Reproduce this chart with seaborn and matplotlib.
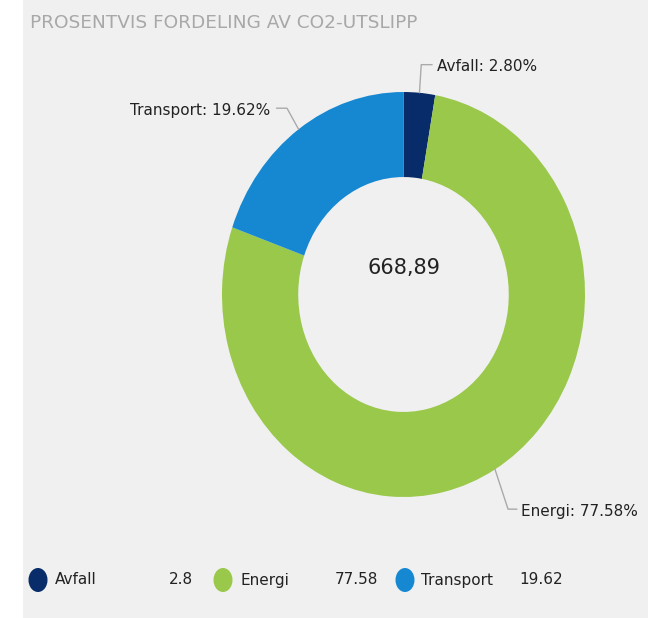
import matplotlib.pyplot as plt
import seaborn as sns
import numpy as np
from matplotlib.patches import Rectangle, Ellipse

# data
categories = ["Avfall", "Energi", "Transport"]
shares = [2.80, 77.58, 19.62]
legend_values = ["2.8", "77.58", "19.62"]
total_label = "668,89"
title = "PROSENTVIS FORDELING AV CO2-UTSLIPP"

colors = ["#082C6A", "#99C84A", "#1688D2"]

sns.set_theme(style="white")
plt.rcParams['font.family'] = ['DejaVu Sans']

W, H = 659, 618
fig = plt.figure(figsize=(W / 100, H / 100), dpi=100, facecolor="white")

def fx(px):
    return px / W

def fy(py):
    return 1 - py / H

# grey card background
fig.patches.append(Rectangle((fx(23), 0), fx(648) - fx(23), 1, transform=fig.transFigure,
                             facecolor="#F0F0F0", edgecolor="none", zorder=-5))

fig.text(fx(30), fy(23), title, fontsize=13.3, color="#A8A8A8", va="center", ha="left")

# donut axes (stretched, like the original)
left, right, top, bottom = 222, 585, 92, 497
ax = fig.add_axes([fx(left), fy(bottom), fx(right) - fx(left), (bottom - top) / H])
ax.set_zorder(2)
ax.patch.set_visible(False)
wedges, _ = ax.pie(shares, colors=colors, startangle=90, counterclock=False,
                   radius=1, wedgeprops=dict(width=0.42, edgecolor="none"))
ax.set_aspect("auto")
ax.set_xlim(-1, 1)
ax.set_ylim(-1, 1)
ax.axis("off")

ax.text(0, 0.13, total_label, ha="center", va="center", fontsize=15, color="#222222")

# leader lines + labels: (elbow, line end, text pos, ha)
label_layout = {
    "Avfall": ((0.10, 1.135), (0.16, 1.135), (0.185, 1.125), "left"),
    "Energi": ((0.576, -1.06), (0.625, -1.06), (0.65, -1.07), "left"),
    "Transport": ((-0.642, 0.92), (-0.70, 0.92), (-0.735, 0.91), "right"),
}
for w, cat, s in zip(wedges, categories, shares):
    ang = np.deg2rad((w.theta1 + w.theta2) / 2)
    ax_, ay_ = np.cos(ang), np.sin(ang)
    (ex, ey), (lx, ly), (tx, ty), ha = label_layout[cat]
    if cat == "Avfall":
        ex = ax_ + 0.01
        lx = ex + 0.06
    ax.plot([ax_, ex, lx], [ay_, ey, ly], color="#AAAAAA", lw=1, clip_on=False)
    ax.text(tx, ty, f"{cat}: {s:.2f}%", ha=ha, va="center", fontsize=11,
            color="#222222", clip_on=False)

# legend row
leg_y = 580
circle_x = [38, 223, 405]
text_x = [55, 240, 421]
value_right = [193, 378, 563]
for c, cx, tx, vx, cat, val in zip(colors, circle_x, text_x, value_right, categories, legend_values):
    fig.patches.append(Ellipse((fx(cx), fy(leg_y)), 19 / W, 24 / H, transform=fig.transFigure,
                               facecolor=c, edgecolor="none"))
    fig.text(fx(tx), fy(leg_y), cat, fontsize=11, color="#222222", va="center", ha="left")
    fig.text(fx(vx), fy(leg_y), val, fontsize=11, color="#222222", va="center", ha="right")

fig.savefig("out.png", dpi=100, facecolor="white")
